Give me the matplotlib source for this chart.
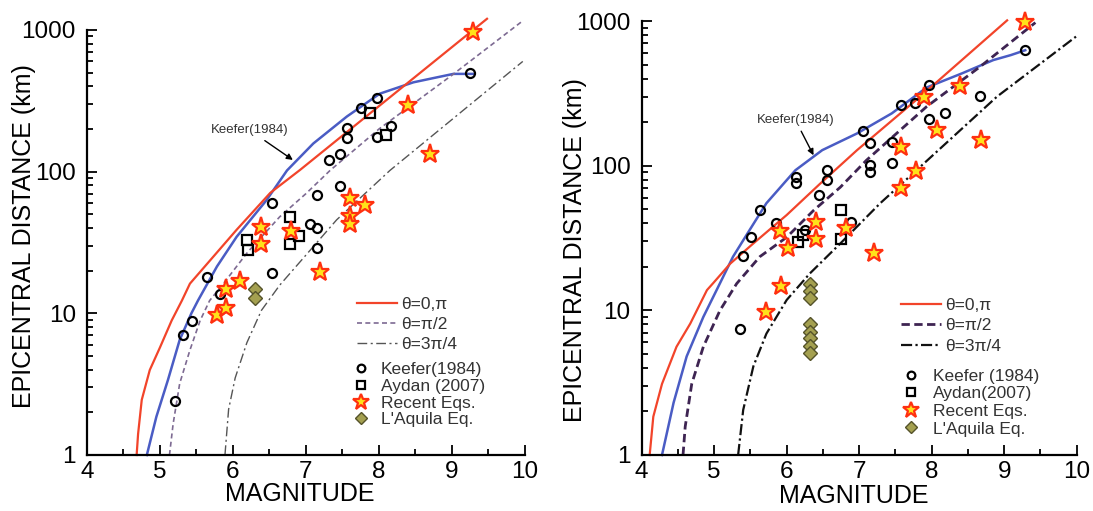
import numpy as np
import matplotlib.pyplot as plt
from matplotlib.ticker import LogLocator, NullFormatter

plt.rcParams['font.family'] = ['Liberation Sans', 'DejaVu Sans']

# ---------------- left panel data ----------------
red_L_mag = [4.68, 4.70, 4.75, 4.86, 5.00, 5.16, 5.30, 5.41, 5.73, 6.05, 6.51, 6.92, 9.48]
red_L_dist = [1.0, 1.41, 2.45, 3.98, 5.75, 8.9, 12.3, 16.2, 25.1, 38.9, 70.8, 103, 1200]
blue_L_mag = [4.82, 4.95, 5.11, 5.27, 5.43, 5.52, 5.78, 6.05, 6.46, 6.74, 7.10, 7.56, 8.01, 8.47, 8.74, 9.02, 9.29]
blue_L_dist = [1.0, 1.86, 3.4, 6.5, 10, 12.3, 21.4, 34.7, 63, 102, 158, 245, 355, 427, 457, 490, 490]
pur_L_mag = [5.13, 5.18, 5.27, 5.41, 5.55, 5.68, 5.90, 6.20, 6.64, 7.00, 7.33, 8.00, 9.00, 9.95]
pur_L_dist = [1.0, 1.66, 3.2, 5.5, 8.9, 12.3, 17, 27, 48, 70, 102, 200, 480, 1140]
dd_L_mag = [5.89, 5.94, 6.03, 6.19, 6.39, 6.64, 7.42, 8.15, 9.97]
dd_L_dist = [1.0, 2.1, 3.5, 6.2, 10.5, 15.8, 45.7, 102, 600]

keefer_L_mag = [5.20, 5.32, 5.44, 5.65, 5.82, 6.53, 6.53, 7.05, 7.15, 7.15, 7.15, 7.31, 7.46, 7.46,
                7.56, 7.56, 7.76, 7.97, 7.97, 8.16, 9.25]
keefer_L_dist = [2.4, 7.0, 8.8, 18, 13.8, 19.4, 60, 43, 40, 29, 68, 121, 134, 79,
                 172, 203, 280, 333, 177, 210, 500]
aydan_L_mag = [6.19, 6.21, 6.78, 6.78, 6.91, 7.88, 8.10]
aydan_L_dist = [33, 28, 48, 31, 35, 258, 181]
recent_L_mag = [5.78, 5.90, 5.90, 6.09, 6.39, 6.39, 6.80, 7.19, 7.60, 7.60, 7.60, 7.81, 8.40, 8.70, 9.29]
recent_L_dist = [9.7, 10.9, 14.8, 16.9, 41, 31, 38, 19.6, 65, 49, 43, 58, 295, 134, 970]
aquila_L_mag = [6.30, 6.30]
aquila_L_dist = [14.8, 12.9]

# ---------------- right panel data ----------------
red_R_mag = [4.11, 4.16, 4.28, 4.48, 4.67, 4.90, 4.99, 5.22, 5.54, 6.00, 6.46, 6.97, 7.84, 9.04]
red_R_dist = [1.0, 1.84, 3.1, 5.6, 8.1, 13.8, 15.5, 21, 29, 45.6, 75, 128, 300, 1010]
blue_R_mag = [4.28, 4.44, 4.62, 4.85, 5.08, 5.26, 5.49, 5.72, 6.12, 6.49, 6.97, 7.45, 7.93, 8.42, 8.85, 9.09, 9.29]
blue_R_dist = [1.0, 2.3, 4.8, 9, 15.4, 23.5, 36, 55, 93, 128, 167, 230, 347, 435, 537, 581, 628]
pur_R_mag = [4.57, 4.60, 4.69, 4.85, 5.08, 5.31, 5.63, 6.00, 6.37, 6.74, 7.10, 7.93, 8.66, 9.43]
pur_R_dist = [1.0, 1.57, 3.1, 5.6, 10, 15.3, 23.5, 32, 49, 71, 109, 256, 480, 975]
dd_R_mag = [5.33, 5.40, 5.54, 5.72, 6.00, 6.32, 6.74, 7.29, 7.78, 8.90, 9.99]
dd_R_dist = [1.0, 2.05, 4.1, 6.9, 11.8, 18, 29, 55, 92, 300, 780]

keefer_R_mag = [5.36, 5.40, 5.51, 5.63, 5.85, 6.13, 6.13, 6.25, 6.45, 6.55, 6.55, 6.89, 7.05, 7.15,
                7.15, 7.15, 7.45, 7.45, 7.57, 7.77, 7.96, 7.96, 8.18, 8.66, 9.29]
keefer_R_dist = [7.4, 23.7, 32, 49, 40, 84, 76, 36, 63, 93, 80, 41, 174, 144,
                 101, 91, 146, 104, 263, 272, 361, 209, 230, 303, 628]
aydan_R_mag = [6.15, 6.22, 6.75, 6.75]
aydan_R_dist = [29.5, 33, 49, 31]
recent_R_mag = [5.71, 5.92, 5.91, 6.02, 6.41, 6.41, 6.82, 7.20, 7.57, 7.57, 7.78, 8.07, 7.89, 8.39, 8.68, 9.29]
recent_R_dist = [9.8, 14.7, 35.5, 27, 41, 31, 37, 25, 70, 135, 92, 176, 299, 355, 150, 988]
aquila_R_mag = [6.32] * 8
aquila_R_dist = [15.1, 13.6, 12.2, 8.0, 7.1, 6.4, 5.66, 5.1]

fig = plt.figure(figsize=(10.93, 5.11), dpi=100)
axL = fig.add_axes([0.0796, 0.1096, 0.4007, 0.8317])
axR = fig.add_axes([0.5871, 0.1096, 0.3980, 0.8493])

TXT = '#333333'


def style(ax):
    ax.set_yscale('log')
    ax.set_xlim(4, 10)
    ax.set_ylim(1, 1000)
    for s in ['top', 'right']:
        ax.spines[s].set_visible(False)
    for s in ['left', 'bottom']:
        ax.spines[s].set_linewidth(1.6)
    ax.set_xticks(range(4, 11))
    ax.set_xticks(np.arange(4.5, 10, 1), minor=True)
    ax.set_yticks([1, 10, 100, 1000])
    ax.set_yticklabels(['1', '10', '100', '1000'])
    ax.yaxis.set_minor_locator(LogLocator(base=10, subs=range(2, 10)))
    ax.yaxis.set_minor_formatter(NullFormatter())
    ax.tick_params(which='both', direction='in', width=1.3, labelsize=17.5)
    ax.tick_params(which='major', length=7)
    ax.tick_params(which='minor', length=4)
    ax.tick_params(axis='y', pad=8)
    ax.tick_params(axis='x', pad=4)


def draw(ax, curves, pts, lab_keefer, lab_aydan):
    lines = []
    for m, d, kw, lab in curves:
        ln, = ax.plot(m, d, clip_on=False, label=lab, **kw)
        lines.append(ln)
    km, kd, am, ad, rm, rd, qm, qd = pts
    h1, = ax.plot(km, kd, 'o', ms=6.5, mfc='none', mec='black', mew=1.6, label=lab_keefer)
    h2, = ax.plot(am, ad, 's', ms=6.5, mfc='none', mec='black', mew=1.6, label=lab_aydan)
    h4, = ax.plot(qm, qd, 'D', ms=7, mfc='#a4a050', mec='#55532a', mew=1.0, label="L'Aquila Eq.")
    h3, = ax.plot(rm, rd, '*', ms=14, mfc='#ffe21a', mec='#ff3010', mew=1.6, label='Recent Eqs.',
                  clip_on=False)
    return lines, [h1, h2, h3, h4]


style(axL)
style(axR)

curvesL = [
    (blue_L_mag, blue_L_dist, dict(color='#4a5cc4', lw=1.8), None),
    (red_L_mag, red_L_dist, dict(color='#f2442a', lw=1.6), 'θ=0,π'),
    (pur_L_mag, pur_L_dist, dict(color='#7d6a92', lw=1.2, ls=(0, (3, 2))), 'θ=π/2'),
    (dd_L_mag, dd_L_dist, dict(color='#555555', lw=1.0, ls=(0, (7, 2.5, 1.5, 2.5))), 'θ=3π/4'),
]
curvesR = [
    (blue_R_mag, blue_R_dist, dict(color='#4a5cc4', lw=1.8), None),
    (red_R_mag, red_R_dist, dict(color='#f2442a', lw=1.6), 'θ=0,π'),
    (pur_R_mag, pur_R_dist, dict(color='#3e2452', lw=2.0, ls=(0, (3, 1.6))), 'θ=π/2'),
    (dd_R_mag, dd_R_dist, dict(color='#111111', lw=1.6, ls=(0, (5, 1.5, 1, 1.5))), 'θ=3π/4'),
]

linesL, mkL = draw(axL, curvesL,
                   (keefer_L_mag, keefer_L_dist, aydan_L_mag, aydan_L_dist,
                    recent_L_mag, recent_L_dist, aquila_L_mag, aquila_L_dist),
                   'Keefer(1984)', 'Aydan (2007)')
linesR, mkR = draw(axR, curvesR,
                   (keefer_R_mag, keefer_R_dist, aydan_R_mag, aydan_R_dist,
                    recent_R_mag, recent_R_dist, aquila_R_mag, aquila_R_dist),
                   'Keefer (1984)', 'Aydan(2007)')

# legends (lines block + markers block)
for ax, lines, mks, l1, l2 in [(axL, linesL, mkL, (0.616, 0.371, 0.27), (0.605, 0.218, 0.08, 0.65)),
                               (axR, linesR, mkR, (0.596, 0.363, 0.32), (0.599, 0.199, 0.14, 0.75))]:
    leg1 = ax.legend(handles=lines[1:], loc='upper left', bbox_to_anchor=(l1[0], l1[1]),
                     frameon=False, fontsize=12.5, handlelength=2.3, handletextpad=0.25,
                     labelspacing=l1[2], borderpad=0, borderaxespad=0, labelcolor=TXT)
    ax.add_artist(leg1)
    ax.legend(handles=mks, loc='upper left', bbox_to_anchor=(l2[0], l2[1]),
              frameon=False, fontsize=12.5, handlelength=1.0, handletextpad=l2[3],
              labelspacing=l2[2], borderpad=0, borderaxespad=0, labelcolor=TXT,
              markerscale=0.85)

# Keefer annotations
axL.annotate('Keefer(1984)', xy=(6.82, 121), xytext=(6.23, 196), ha='center', va='center',
             fontsize=9.5, color=TXT,
             arrowprops=dict(arrowstyle='-|>', color='black', lw=1.0, mutation_scale=9, shrinkB=0))
axR.annotate('Keefer(1984)', xy=(6.37, 118), xytext=(6.12, 207), ha='center', va='center',
             fontsize=9.5, color=TXT,
             arrowprops=dict(arrowstyle='-|>', color='black', lw=1.0, mutation_scale=9, shrinkB=0))

for ax in [axL, axR]:
    ax.set_xlabel('MAGNITUDE', fontsize=18, va='center')
    ax.set_ylabel('EPICENTRAL DISTANCE (km)', fontsize=18, va='center')
axL.xaxis.set_label_coords(0.486, -0.092)
axR.xaxis.set_label_coords(0.488, -0.094)
axL.yaxis.set_label_coords(-0.144, 0.516)
axR.yaxis.set_label_coords(-0.153, 0.472)

fig.savefig('out.png', dpi=100)
